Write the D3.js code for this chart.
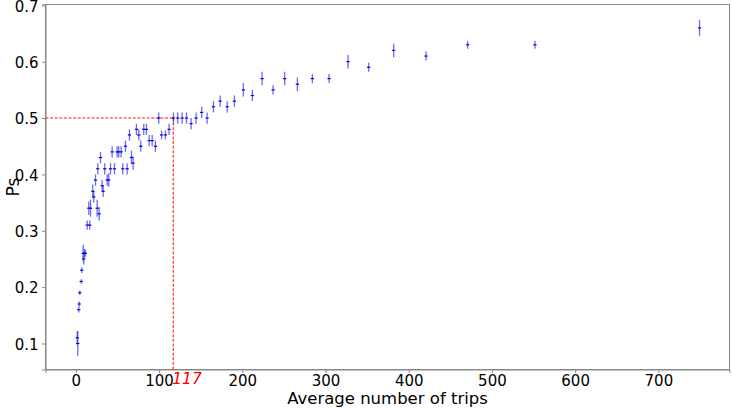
<!DOCTYPE html>
<html><head><meta charset="utf-8">
<script src="https://cdn.jsdelivr.net/npm/d3@7"></script>
<style>html,body{margin:0;padding:0;background:#fff;}svg{display:block;}</style>
</head><body>
<script>
const tripsX = [1.6,2.3,3.5,4,4.7,6.4,7.1,8.8,9.5,10.3,11.5,13.6,15.5,16.7,17.6,20.3,21.5,23.6,25.6,26.3,28,29.6,31.6,32.8,34.7,37.6,39.5,41.6,43.6,46.4,49.6,51.5,54.4,56.4,59.6,61.6,64.4,66.8,68.8,72.8,75.6,78,81.6,84.8,88.1,91.7,95.6,99.6,103,107.6,112,117.3,122.4,127.7,132.9,138.5,144.5,151.2,157.7,165.3,173.4,181.8,190.5,201.3,212.1,223.8,237,250.9,266.2,284.2,304.3,327.1,351.9,381.9,420.8,470.8,551.7,749.5];
const psY = [0.11,0.10,0.16,0.17,0.19,0.21,0.23,0.26,0.25,0.26,0.26,0.31,0.34,0.31,0.34,0.37,0.36,0.39,0.34,0.41,0.33,0.43,0.38,0.37,0.41,0.39,0.39,0.41,0.44,0.41,0.44,0.44,0.44,0.41,0.45,0.41,0.47,0.43,0.42,0.48,0.47,0.45,0.48,0.48,0.46,0.46,0.45,0.50,0.47,0.47,0.48,0.50,0.50,0.50,0.50,0.49,0.50,0.51,0.50,0.52,0.53,0.52,0.53,0.55,0.54,0.57,0.55,0.57,0.56,0.57,0.57,0.60,0.59,0.62,0.61,0.63,0.63,0.66];
const psErr = [0.012,0.022,0.005,0.005,0.004,0.004,0.005,0.015,0.01,0.008,0.006,0.008,0.012,0.008,0.015,0.012,0.01,0.01,0.015,0.01,0.012,0.01,0.01,0.01,0.01,0.01,0.012,0.01,0.01,0.01,0.01,0.01,0.01,0.01,0.01,0.01,0.01,0.012,0.012,0.01,0.01,0.01,0.01,0.01,0.01,0.01,0.01,0.01,0.008,0.008,0.01,0.01,0.01,0.01,0.01,0.01,0.01,0.01,0.01,0.01,0.01,0.01,0.01,0.012,0.01,0.012,0.008,0.012,0.012,0.008,0.008,0.012,0.008,0.012,0.008,0.007,0.007,0.014];
const xTicks = [0,100,200,300,400,500,600,700];
const yTicks = [0.1,0.2,0.3,0.4,0.5,0.6,0.7];
const threshold = 0.5;
const thresholdTrips = 117;
const xLabel = "Average number of trips";
const yLabel = "Ps";

const W = 732, H = 408;
const L = 45.5, R = 729.5, T = 4.5, B = 369.5;
const svg = d3.select("body").append("svg").attr("width", W).attr("height", H)
  .style("font-family", "'DejaVu Sans', sans-serif");

const x = d3.scaleLinear().domain([-36.5, 785.5]).range([L, R]);
const y = d3.scaleLinear().domain([0.0538, 0.7015]).range([B, T]);

// frame
svg.append("rect").attr("x", L).attr("y", T).attr("width", R - L).attr("height", B - T)
  .attr("fill", "none").attr("stroke", "#888").attr("stroke-width", 1);

const xAxis = svg.append("g").attr("transform", `translate(0,${B})`)
  .call(d3.axisBottom(x).tickValues(xTicks).tickSize(3.5).tickPadding(3.5).tickFormat(d3.format("d")));
const yAxis = svg.append("g").attr("transform", `translate(${L},0)`)
  .call(d3.axisLeft(y).tickValues(yTicks).tickSize(3.5).tickPadding(3.5).tickFormat(d3.format(".1f")));
[xAxis, yAxis].forEach(g => {
  g.select(".domain").attr("stroke", "#888");
  g.selectAll(".tick line").attr("stroke", "#888");
  g.selectAll(".tick text").attr("fill", "#000").style("font-size", "15px").style("font-family", "'DejaVu Sans', sans-serif");
});
xAxis.selectAll(".tick text").attr("dy", "0.66em");
yAxis.selectAll(".tick text").attr("dy", "0.38em");

// threshold lines
const yT = y(threshold);
const xT = x(thresholdTrips);
svg.append("line").attr("x1", L).attr("x2", xT).attr("y1", yT).attr("y2", yT)
  .attr("stroke", "#ff1a1a").attr("stroke-width", 1.1).attr("stroke-dasharray", "3,1.6");
svg.append("line").attr("x1", xT).attr("x2", xT).attr("y1", yT).attr("y2", B)
  .attr("stroke", "#ff1a1a").attr("stroke-width", 1.1).attr("stroke-dasharray", "3,1.6");
svg.append("text").attr("x", x(thresholdTrips) - 1).attr("y", B + 14.5)
  .attr("fill", "#ff0000").style("font-size", "15.5px").style("font-style", "italic")
  .text(String(thresholdTrips));

// error bars
const pts = tripsX.map((d, i) => ({x: d, y: psY[i], e: psErr[i]}));
const g = svg.append("g");
g.selectAll("line.bar").data(pts).enter().append("line").attr("class", "bar")
  .attr("x1", d => x(d.x)).attr("x2", d => x(d.x))
  .attr("y1", d => y(d.y - d.e)).attr("y2", d => y(d.y + d.e))
  .attr("stroke", "#3a3af0").attr("stroke-opacity", 0.75).attr("stroke-width", 1.3);
g.selectAll("line.mk").data(pts).enter().append("line").attr("class", "mk")
  .attr("x1", d => x(d.x) - 1.6).attr("x2", d => x(d.x) + 1.6)
  .attr("y1", d => y(d.y)).attr("y2", d => y(d.y))
  .attr("stroke", "#0000cc").attr("stroke-width", 1.2);

// labels
svg.append("text").attr("x", (L + R) / 2).attr("y", 404).attr("text-anchor", "middle")
  .style("font-size", "16.5px").attr("fill", "#000").text(xLabel);
svg.append("text").attr("transform", `translate(19,${(T + B) / 2}) rotate(-90)`).attr("text-anchor", "middle")
  .style("font-size", "17px").attr("fill", "#000").text(yLabel);
</script>
</body></html>
